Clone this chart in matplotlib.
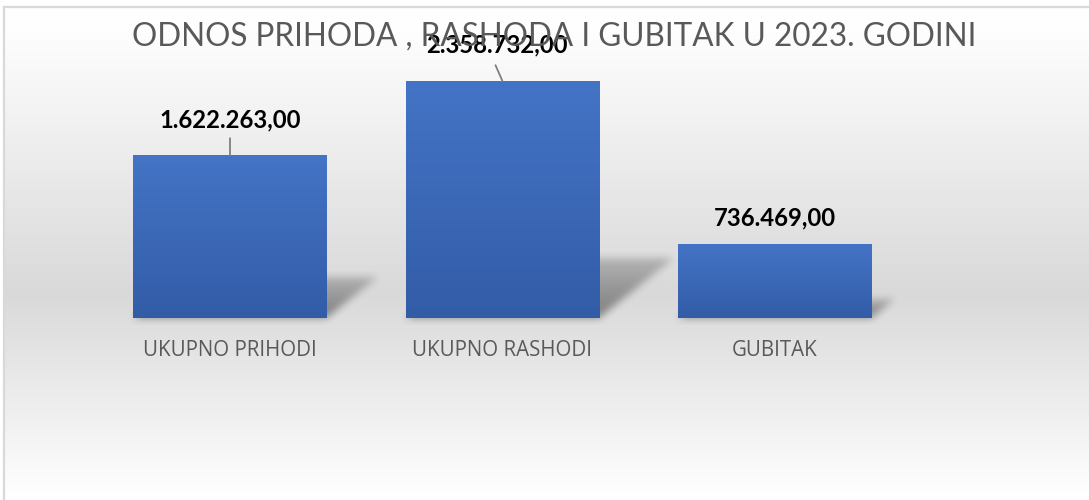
import numpy as np
import matplotlib
matplotlib.use("Agg")
import matplotlib.pyplot as plt
from matplotlib.lines import Line2D

# podaci
kategorije = ["UKUPNO PRIHODI", "UKUPNO RASHODI", "GUBITAK"]
iznosi = [1622263.00, 2358732.00, 736469.00]
oznake = ["1.622.263,00", "2.358.732,00", "736.469,00"]
naslov = "ODNOS PRIHODA , RASHODA I GUBITAK U 2023. GODINI"

W, H = 1089, 500
fig = plt.figure(figsize=(W / 100, H / 100), dpi=100)
fig.patch.set_facecolor("white")

# pozadina s gradijentom (bijelo - sivo - bijelo)
ax_bg = fig.add_axes([0, 0, 1, 1])
ax_bg.set_xlim(0, W)
ax_bg.set_ylim(0, H)
ax_bg.axis("off")
yy = np.arange(H)[::-1]  # red 0 = vrh slike
od_vrha = H - 1 - yy
siva = np.interp(od_vrha, [0, 25, 290, 490, 500], [255, 254, 217, 254, 255]) / 255.0
grad = np.repeat(siva[:, None], W, axis=1)
ax_bg.imshow(np.dstack([grad, grad, grad]), extent=(4, W, 0, H - 7),
             aspect="auto", zorder=0)

# okvir grafikona
fig.add_artist(Line2D([4 / W, 1], [1 - 6.5 / H, 1 - 6.5 / H], color="#d9d9d9", lw=1.6))
fig.add_artist(Line2D([4 / W, 4 / W], [0, 1 - 6.5 / H], color="#d9d9d9", lw=1.6))

# glavna os
ax = fig.add_axes([93.75 / W, 182 / H, 817.5 / W, 261 / H])
ax.patch.set_alpha(0)
x = np.arange(len(kategorije))
sirina = 0.71
stupci = ax.bar(x, iznosi, width=sirina, color="none", zorder=3)
ax.set_xlim(-0.5, 2.5)
ax.set_ylim(0, 2.6e6)
ax.axis("off")

# gradijent na stupcima
boja_gore = np.array([68, 116, 198]) / 255.0
boja_dolje = np.array([51, 92, 167]) / 255.0
t = np.linspace(0, 1, 100)[:, None]
g = boja_gore * (1 - t) + boja_dolje * t
g = g[:, None, :]
for s in stupci:
    x0 = s.get_x()
    ax.imshow(g, extent=(x0, x0 + s.get_width(), 0, s.get_height()),
              aspect="auto", zorder=3, interpolation="bilinear")
ax.set_xlim(-0.5, 2.5)
ax.set_ylim(0, 2.6e6)

# sjene stupaca (perspektiva, zamucene)
alfa = np.zeros((H, W))
py = np.arange(H)[:, None]
px = np.arange(W)[None, :]
for s in stupci:
    (lx, by), (rx, ty) = ax.transData.transform(
        [(s.get_x(), 0), (s.get_x() + s.get_width(), s.get_height())])
    sh = 0.25 * (ty - by)
    skew = 1.25 * sh
    tt = (py - by) / sh
    unutra = (tt >= 0) & (tt <= 1) & (px >= lx + skew * tt) & (px <= rx + skew * tt)
    alfa = np.maximum(alfa, np.where(unutra, 0.42 * (1 - 0.55 * np.clip(tt, 0, 1)), 0))


def zamuti(a, n):
    k = np.ones(n) / n
    for _ in range(2):
        a = np.apply_along_axis(lambda r: np.convolve(r, k, mode="same"), 1, a)
        a = np.apply_along_axis(lambda c: np.convolve(c, k, mode="same"), 0, a)
    return a


alfa = zamuti(alfa, 9)
sjena = np.zeros((H, W, 4))
sjena[..., 3] = alfa[::-1]
ax_bg.imshow(sjena, extent=(0, W, 0, H), aspect="auto", zorder=1)

# naslov
fig.text(554.5 / W, 1 - 37 / H, naslov, ha="center", va="center", fontsize=22.7,
         fontweight="normal", color="#595959", family=["Lato", "DejaVu Sans"],
         zorder=2)

# oznake vrijednosti
pomaci = [(0, 35), (-6, 36), (0, 26)]
linije = [(0, 17), (-7, 16), None]
for s, tekst, pom, lin in zip(stupci, oznake, pomaci, linije):
    xc = s.get_x() + s.get_width() / 2
    ax.annotate(tekst, (xc, s.get_height()), xytext=pom, textcoords="offset pixels",
                ha="center", va="center", fontsize=17.2, fontweight="bold",
                family=["Lato", "DejaVu Sans"], color="black", zorder=5)
    if lin is not None:
        ax.annotate("", (xc, s.get_height()), xytext=lin, textcoords="offset pixels",
                    arrowprops=dict(arrowstyle="-", color="#7f7f7f", lw=1.3,
                                    shrinkA=0, shrinkB=0), zorder=4)

# nazivi kategorija
for xi, k in zip(x, kategorije):
    ax.annotate(k, (xi, 0), xytext=(0, -32), textcoords="offset pixels",
                ha="center", va="center", fontsize=14.8, color="#595959",
                family=["Open Sans", "DejaVu Sans"])

fig.savefig("out.png", dpi=100)
